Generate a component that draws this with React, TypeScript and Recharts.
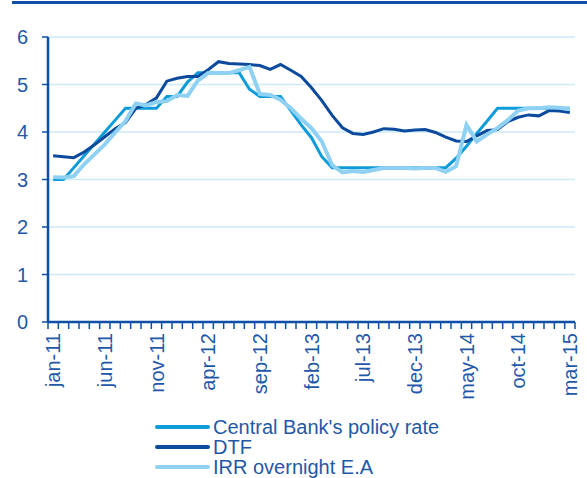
import React from 'react';
import { LineChart, Line, XAxis, YAxis, CartesianGrid, Legend } from 'recharts';

const months = [
  'jan-11', 'feb-11', 'mar-11', 'apr-11', 'may-11', 'jun-11', 'jul-11', 'aug-11', 'sep-11', 'oct-11', 'nov-11', 'dec-11',
  'jan-12', 'feb-12', 'mar-12', 'apr-12', 'may-12', 'jun-12', 'jul-12', 'aug-12', 'sep-12', 'oct-12', 'nov-12', 'dec-12',
  'jan-13', 'feb-13', 'mar-13', 'apr-13', 'may-13', 'jun-13', 'jul-13', 'aug-13', 'sep-13', 'oct-13', 'nov-13', 'dec-13',
  'jan-14', 'feb-14', 'mar-14', 'apr-14', 'may-14', 'jun-14', 'jul-14', 'aug-14', 'sep-14', 'oct-14', 'nov-14', 'dec-14',
  'jan-15', 'feb-15', 'mar-15',
];

const labelMonths = ['jan-11', 'jun-11', 'nov-11', 'apr-12', 'sep-12', 'feb-13', 'jul-13', 'dec-13', 'may-14', 'oct-14', 'mar-15'];

const policyRate = [
  3.0, 3.0, 3.25, 3.5, 3.75, 4.0, 4.25, 4.5, 4.5, 4.5, 4.5, 4.75,
  4.75, 5.05, 5.25, 5.25, 5.25, 5.25, 5.25, 4.9, 4.75, 4.75, 4.75, 4.45,
  4.15, 3.88, 3.48, 3.25, 3.25, 3.25, 3.25, 3.25, 3.25, 3.25, 3.25, 3.25,
  3.25, 3.25, 3.25, 3.45, 3.7, 3.97, 4.23, 4.5, 4.5, 4.5, 4.5, 4.5,
  4.5, 4.5, 4.5,
];

const dtf = [
  3.5, 3.48, 3.46, 3.58, 3.73, 3.9, 4.07, 4.2, 4.5, 4.58, 4.72, 5.07,
  5.13, 5.17, 5.17, 5.31, 5.48, 5.44, 5.43, 5.42, 5.4, 5.32, 5.42, 5.3,
  5.17, 4.93, 4.66, 4.35, 4.09, 3.97, 3.95, 4.0, 4.07, 4.06, 4.02, 4.04,
  4.05, 3.99, 3.89, 3.81, 3.8, 3.92, 4.03, 4.05, 4.22, 4.31, 4.36, 4.34,
  4.45, 4.44, 4.41,
];

const irrOvernight = [
  3.05, 3.04, 3.07, 3.32, 3.53, 3.74, 3.99, 4.23, 4.6, 4.56, 4.63, 4.65,
  4.78, 4.76, 5.08, 5.24, 5.24, 5.24, 5.3, 5.37, 4.8, 4.78, 4.68, 4.5,
  4.28, 4.08, 3.8, 3.3, 3.15, 3.18, 3.16, 3.2, 3.24, 3.24, 3.24, 3.23,
  3.24, 3.24, 3.16, 3.28, 4.15, 3.8, 3.95, 4.08, 4.25, 4.45, 4.5, 4.5,
  4.52, 4.51, 4.48,
];

const yTicks = [0, 1, 2, 3, 4, 5, 6];

const AXIS = '#0d4fa6';
const TEXT = '#1f58a8';
const FONT = '"Liberation Sans", Arial, sans-serif';
const TICK_LEN = 7;
const LABEL_GAP = 11;

const series = [
  { key: 'policy', name: "Central Bank's policy rate", color: '#0d9bd9', width: 3 },
  { key: 'dtf', name: 'DTF', color: '#0b4a9c', width: 3 },
  { key: 'irr', name: 'IRR overnight E.A', color: '#8ed1f2', width: 4 },
];

// each month sits in the middle of its slot; slot edges carry the small ticks
const data = months.map((m, i) => ({
  x: i + 0.5,
  month: m,
  policy: policyRate[i],
  dtf: dtf[i],
  irr: irrOvernight[i],
}));

const labelTicks = labelMonths.map((m) => months.indexOf(m) + 0.5);
const edgeTicks = months.map((_, i) => i).concat(months.length);
const allTicks = [...edgeTicks, ...labelTicks].sort((a, b) => a - b);

// draws a small tick mark on slot edges and a rotated month label on labelled slots
const MonthTick = ({ x, y, payload }: any) => {
  const v = payload.value;
  const axisY = y - LABEL_GAP;
  if (Number.isInteger(v)) {
    return <line x1={x} x2={x} y1={axisY} y2={axisY + TICK_LEN} stroke={AXIS} strokeWidth={1.5} />;
  }
  return (
    <text
      x={x}
      y={y}
      transform={`rotate(-90, ${x}, ${y})`}
      textAnchor="end"
      dy="0.35em"
      fill={TEXT}
      fontSize={20}
      fontFamily={FONT}
    >
      {months[Math.floor(v)]}
    </text>
  );
};

const LegendContent = () => (
  <div style={{ fontFamily: FONT, fontSize: 20, color: TEXT }}>
    {series.map((s) => (
      <div key={s.key} style={{ display: 'flex', alignItems: 'center', height: 20, lineHeight: '20px' }}>
        <span style={{ display: 'inline-block', width: 55, height: 4, background: s.color, marginRight: 3, borderRadius: 2 }} />
        <span>{s.name}</span>
      </div>
    ))}
  </div>
);

export default function App() {
  return (
    <div style={{ position: 'absolute', left: 0, top: 0, width: 587, height: 478, background: '#fff' }}>
      <div style={{ position: 'absolute', left: 12, top: 1, width: 575, height: 3, background: AXIS }} />
      <LineChart width={587} height={478} data={data} margin={{ top: 37, right: 12, left: 0, bottom: 76 }}>
        <CartesianGrid vertical={false} stroke="#cdeaf7" strokeWidth={1.5} />
        <XAxis
          type="number"
          dataKey="x"
          domain={[0, months.length]}
          ticks={allTicks}
          height={80}
          interval={0}
          tickSize={0}
          tickMargin={LABEL_GAP}
          axisLine={{ stroke: AXIS, strokeWidth: 2.5 }}
          tickLine={false}
          tick={<MonthTick />}
        />
        <YAxis
          domain={[0, 6]}
          ticks={yTicks}
          width={48}
          tickSize={6}
          tickMargin={14}
          axisLine={{ stroke: AXIS, strokeWidth: 2.5 }}
          tickLine={{ stroke: AXIS, strokeWidth: 1.5 }}
          tick={{ fill: TEXT, fontSize: 20, fontFamily: FONT }}
        />
        {series.map((s) => (
          <Line
            key={s.key}
            type="linear"
            dataKey={s.key}
            name={s.name}
            stroke={s.color}
            strokeWidth={s.width}
            dot={false}
            activeDot={false}
            isAnimationActive={false}
          />
        ))}
        <Legend
          layout="vertical"
          align="center"
          verticalAlign="middle"
          content={<LegendContent />}
          wrapperStyle={{ left: 155, top: 417, width: 420, height: 60 }}
        />
      </LineChart>
    </div>
  );
}
